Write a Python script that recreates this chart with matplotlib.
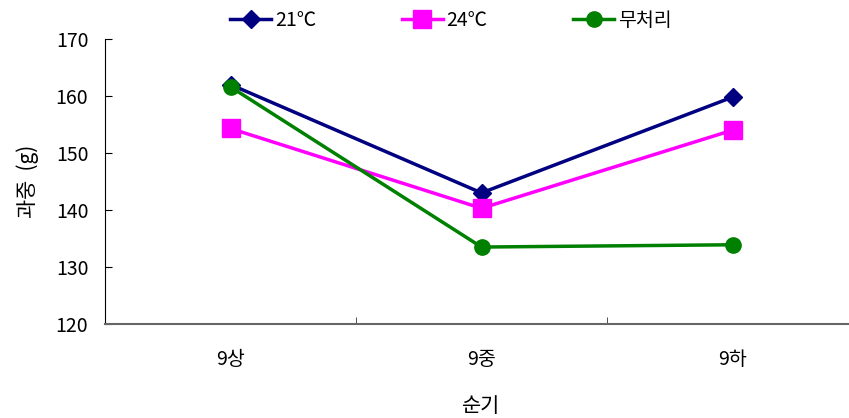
import matplotlib
matplotlib.use('Agg')
import matplotlib.pyplot as plt

plt.rcParams['font.family'] = ['Noto Sans CJK KR', 'DejaVu Sans']

periods = ["9상", "9중", "9하"]
temp21 = [162.0, 143.0, 159.8]
temp24 = [154.3, 140.3, 154.0]
control = [161.6, 133.5, 133.9]
series_names = ["21℃", "24℃", "무처리"]
yticks = [120, 130, 140, 150, 160, 170]

fig = plt.figure(figsize=(8.49, 4.18), dpi=100)
ax = fig.add_axes([105 / 849, 1 - 324 / 418, 753 / 849, 285 / 418])

x = [1, 2, 3]
ax.plot(x, temp21, color="#000080", marker="D", markersize=9, linewidth=2.5, label=series_names[0])
ax.plot(x, temp24, color="#FF00FF", marker="s", markersize=13, linewidth=2.5, label=series_names[1])
ax.plot(x, control, color="#008000", marker="o", markersize=11, linewidth=2.5, label=series_names[2])

ax.set_xlim(0.5, 3.5)
ax.set_ylim(120, 170)
ax.set_yticks(yticks)
ax.set_xticks(x)
ax.set_xticklabels(periods)
ax.set_xticks([1.5, 2.5], minor=True)
ax.tick_params(axis="x", which="major", length=0, pad=18, labelsize=14)
ax.tick_params(axis="x", which="minor", direction="in", length=5, color="#333333")
ax.tick_params(axis="y", direction="in", length=5, labelsize=14, pad=12)

ax.spines["top"].set_visible(False)
ax.spines["right"].set_visible(False)
ax.spines["bottom"].set_color("#666666")
ax.spines["bottom"].set_linewidth(1.5)
ax.spines["left"].set_color("black")

ax.set_xlabel("순기", fontsize=15, labelpad=18)
ax.set_ylabel("과중  (g)", fontsize=15, labelpad=12)

fig.legend(loc="center", bbox_to_anchor=(0.531, 0.952), ncol=3, frameon=False,
           fontsize=14, handlelength=2.1, columnspacing=4.4, handletextpad=0.2)

fig.savefig("out.png", dpi=100)
plt.close()
